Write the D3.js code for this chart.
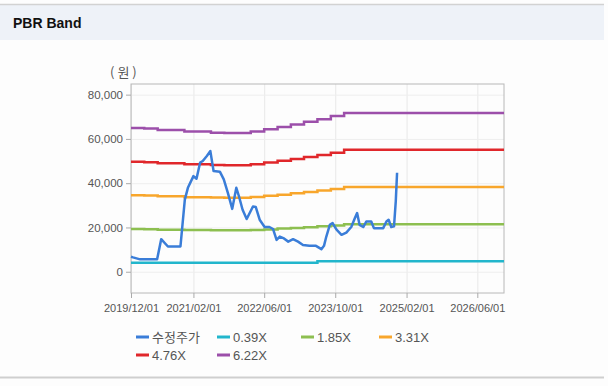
<!DOCTYPE html>
<html>
<head>
<meta charset="utf-8">
<script src="https://cdn.jsdelivr.net/npm/d3@7"></script>
<style>
  body { margin: 0; background: #fdfdfd; font-family: "Liberation Sans", Arial, sans-serif; }
  svg { display: block; }
</style>
</head>
<body>
<svg id="chart" width="608" height="386"></svg>
<script>
// price (수정주가)
const priceDates = [
  "2019-12-01", "2019-12-15", "2020-02-01", "2020-05-28", "2020-06-25", "2020-08-10",
  "2020-11-04", "2020-12-04", "2020-12-25", "2021-02-01", "2021-02-22", "2021-03-19",
  "2021-04-06", "2021-05-04", "2021-05-28", "2021-06-19", "2021-08-01", "2021-08-28",
  "2021-09-25", "2021-10-25", "2021-11-22", "2021-12-10", "2022-01-04", "2022-02-01",
  "2022-03-16", "2022-04-04", "2022-05-01", "2022-06-04", "2022-07-07", "2022-08-01",
  "2022-08-25", "2022-09-16", "2022-10-10", "2022-11-13", "2022-12-16", "2023-01-19",
  "2023-02-22", "2023-04-07", "2023-05-22", "2023-06-28", "2023-07-16", "2023-08-01",
  "2023-08-25", "2023-09-13", "2023-10-10", "2023-11-13", "2023-12-16", "2024-01-19",
  "2024-02-13", "2024-02-28", "2024-03-16", "2024-04-10", "2024-05-01", "2024-06-04",
  "2024-06-22", "2024-08-25", "2024-09-16", "2024-10-01", "2024-10-19", "2024-11-07",
  "2024-11-19", "2024-11-28"
];
const priceValues = [
  6800, 6500, 5600, 5600, 14700, 11400,
  11400, 32600, 37900, 43200, 42000, 49300,
  50000, 52300, 54500, 45500, 45200, 41700,
  35600, 28400, 37900, 34100, 28000, 23800,
  29500, 29300, 23500, 20200, 20200, 19300,
  14400, 15900, 15200, 13600, 14700, 13600,
  12100, 11700, 11700, 10200, 11700, 15900,
  21200, 22000, 19000, 16700, 17700, 20200,
  24300, 26500, 21200, 20200, 22700, 22700,
  19700, 19700, 22700, 23500, 20200, 20500,
  31800, 44700
];

// PBR bands
const bandDates = [
  "2019-12-01", "2020-03-01", "2020-06-01", "2020-09-01", "2020-12-01", "2021-03-01",
  "2021-06-01", "2021-09-01", "2021-12-01", "2022-03-01", "2022-06-01", "2022-09-01",
  "2022-12-01", "2023-03-01", "2023-06-01", "2023-09-01", "2023-12-01", "2026-12-01"
];
const band039 = [4100, 4100, 4100, 4100, 4100, 4100, 4100, 4100, 4100, 4100, 4100, 4100, 4100, 4100, 4700, 4700, 4700, 4700];
const band185 = [19300, 19200, 19000, 19000, 18800, 18800, 18700, 18700, 18700, 18900, 19100, 19500, 19800, 20100, 20500, 20900, 21400, 21400];
const band331 = [34600, 34400, 34100, 34100, 33700, 33700, 33500, 33400, 33400, 33800, 34300, 34800, 35400, 36000, 36700, 37400, 38300, 38300];
const band476 = [49700, 49500, 49000, 49000, 48500, 48500, 48200, 48100, 48100, 48600, 49300, 50100, 50900, 51800, 52700, 53800, 55100, 55100];
const band622 = [64900, 64700, 64000, 64000, 63400, 63400, 62800, 62700, 62700, 63400, 64400, 65400, 66500, 67700, 68900, 70300, 71700, 71700];

const seriesNames = ["수정주가", "0.39X", "1.85X", "3.31X", "4.76X", "6.22X"];
const seriesColors = ["#3a7dd8", "#22b6cc", "#8dbf50", "#f8a62c", "#e0272b", "#9c4faa"];

const xTickLabels = ["2019/12/01", "2021/02/01", "2022/06/01", "2023/10/01", "2025/02/01", "2026/06/01"];
const yTicks = [0, 20000, 40000, 60000, 80000];

const svg = d3.select("#chart");
const parse = d3.timeParse("%Y-%m-%d");
const parseTick = d3.timeParse("%Y/%m/%d");

// header
svg.append("rect").attr("x", 0).attr("y", 4).attr("width", 604).attr("height", 36).attr("fill", "#eef2f8");
svg.append("line").attr("x1", 0).attr("x2", 604).attr("y1", 4.5).attr("y2", 4.5).attr("stroke", "#d2d2d2").attr("stroke-width", 1.5);
svg.append("text").attr("x", 13).attr("y", 28).text("PBR Band")
  .attr("font-size", 14).attr("font-weight", "bold").attr("fill", "#111");
svg.append("line").attr("x1", 0).attr("x2", 604).attr("y1", 377.5).attr("y2", 377.5).attr("stroke", "#cfcfcf").attr("stroke-width", 2);

const margin = { top: 84, left: 131, right: 104, bottom: 93 };
const width = 608 - margin.left - margin.right;
const height = 386 - margin.top - margin.bottom;

const x = d3.scaleTime()
  .domain([parse("2019-12-01"), parse("2026-12-01")])
  .range([margin.left, margin.left + width]);
const y = d3.scaleLinear()
  .domain([-9600, 84800])
  .range([margin.top + height, margin.top]);

const xTicks = xTickLabels.map(parseTick);

// grid
svg.append("g")
  .attr("transform", `translate(0, ${margin.top + height})`)
  .call(d3.axisBottom(x).tickValues(xTicks).tickSize(-height).tickFormat(""))
  .call(g => g.select(".domain").remove())
  .call(g => g.selectAll("line").attr("stroke", "#e8e8e8"));
svg.append("g")
  .attr("transform", `translate(${margin.left}, 0)`)
  .call(d3.axisLeft(y).tickValues(yTicks).tickSize(-width).tickFormat(""))
  .call(g => g.select(".domain").remove())
  .call(g => g.selectAll("line").attr("stroke", "#eeeeee"));

// frame
svg.append("rect")
  .attr("x", margin.left).attr("y", margin.top)
  .attr("width", width).attr("height", height)
  .attr("fill", "none").attr("stroke", "#b8b8b8");

// axes
svg.append("g")
  .attr("transform", `translate(0, ${margin.top + height})`)
  .call(d3.axisBottom(x).tickValues(xTicks).tickSize(5).tickPadding(6).tickFormat(d3.timeFormat("%Y/%m/%d")))
  .call(g => g.select(".domain").remove())
  .call(g => g.selectAll("line").attr("stroke", "#aaa"))
  .call(g => g.selectAll("text").attr("fill", "#555").attr("font-size", 11).attr("font-family", "Liberation Sans, Arial, sans-serif"));

svg.append("g")
  .attr("transform", `translate(${margin.left}, 0)`)
  .call(d3.axisLeft(y).tickValues(yTicks).tickSize(5).tickPadding(3).tickFormat(d3.format(",")))
  .call(g => g.select(".domain").remove())
  .call(g => g.selectAll("line").attr("stroke", "#aaa"))
  .call(g => g.selectAll("text").attr("fill", "#555").attr("font-size", 11.5).attr("font-family", "Liberation Sans, Arial, sans-serif"));

svg.append("text").attr("x", 110).attr("y", 77).text("(원)")
  .attr("font-size", 13).attr("letter-spacing", 3).attr("fill", "#555")
  .attr("font-family", "'Noto Sans CJK KR', sans-serif");

// bands
const bandLine = d3.line()
  .x(d => x(d.date))
  .y(d => y(d.value))
  .curve(d3.curveStepAfter);

const bands = [band039, band185, band331, band476, band622];
bands.forEach((vals, i) => {
  const data = bandDates.map((d, j) => ({ date: parse(d), value: vals[j] }));
  svg.append("path")
    .datum(data)
    .attr("fill", "none")
    .attr("stroke", seriesColors[i + 1])
    .attr("stroke-width", 2.5)
    .attr("d", bandLine);
});

// price
const priceData = priceDates.map((d, j) => ({ date: parse(d), value: priceValues[j] }));
svg.append("path")
  .datum(priceData)
  .attr("fill", "none")
  .attr("stroke", seriesColors[0])
  .attr("stroke-width", 2.5)
  .attr("stroke-linejoin", "round")
  .attr("d", d3.line().x(d => x(d.date)).y(d => y(d.value)));

// legend
const legendX = [136, 217, 301, 379];
const legendY = [337, 355];
seriesNames.forEach((name, i) => {
  const lx = legendX[i % 4];
  const ly = legendY[Math.floor(i / 4)];
  svg.append("line")
    .attr("x1", lx).attr("x2", lx + 13)
    .attr("y1", ly).attr("y2", ly)
    .attr("stroke", seriesColors[i]).attr("stroke-width", 3);
  svg.append("text")
    .attr("x", lx + 16).attr("y", ly + 5)
    .text(name)
    .attr("font-size", 13).attr("fill", "#555")
    .attr("font-family", i === 0 ? "'Noto Sans CJK KR', sans-serif" : "Liberation Sans, Arial, sans-serif");
});
</script>
</body>
</html>
